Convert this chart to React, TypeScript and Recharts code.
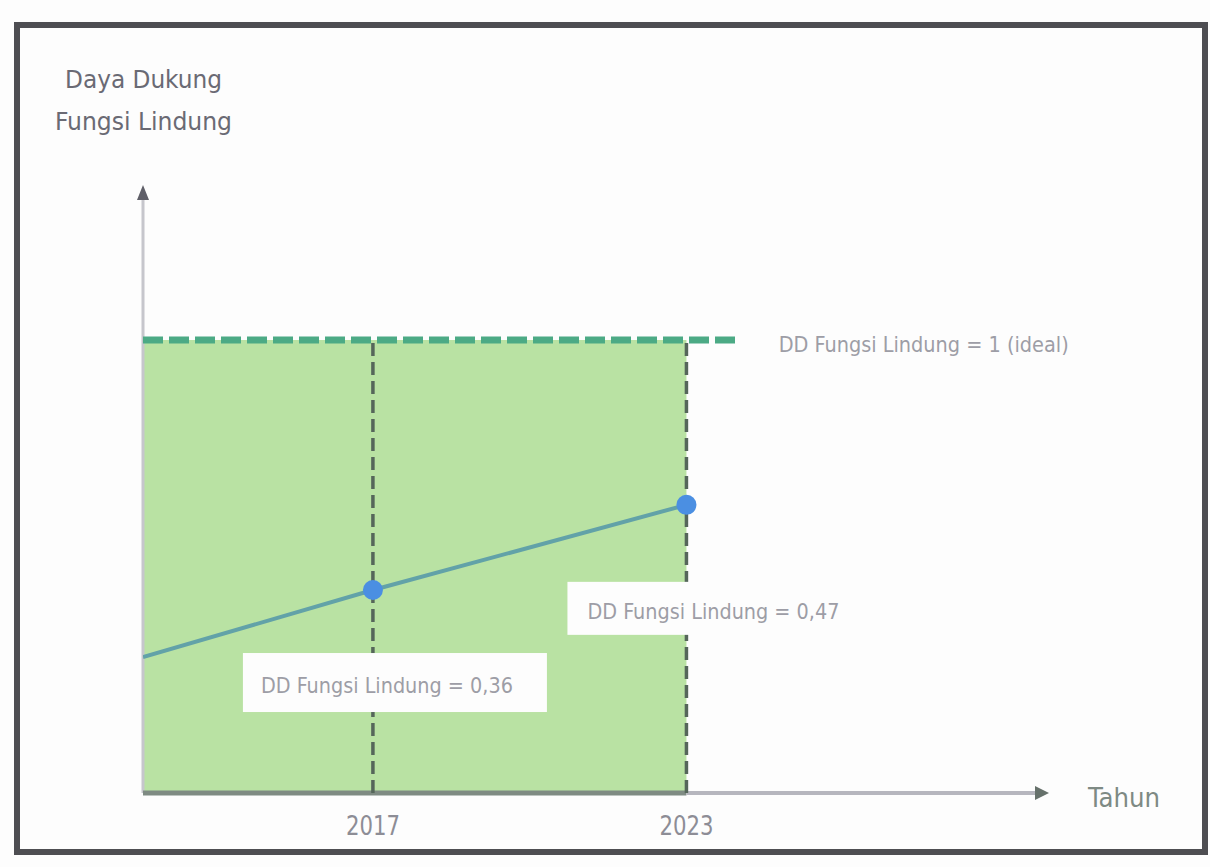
import React from 'react';
import {
  ComposedChart,
  Line,
  Scatter,
  XAxis,
  YAxis,
  ReferenceArea,
  ReferenceLine,
  ReferenceDot,
} from 'recharts';

// sketch values (positions as drawn in the schematic)
const xStart = 2012.6;
const xEnd = 2029.9;
const yTop = 1.342;
const years = [2017, 2023];
const plottedValues = [0.448, 0.636];
const ddLabels = ['0,36', '0,47'];
const lineStartValue = 0.3;
const idealValue = 1;
const idealLineEnd = 2024;
const titleLines = ['Daya Dukung', 'Fungsi Lindung'];

const lineData = [
  { year: xStart, dd: lineStartValue },
  ...years.map((y, i) => ({ year: y, dd: plottedValues[i] })),
];
const pointData = years.map((y, i) => ({ year: y, dd: plottedValues[i], label: ddLabels[i] }));

const FONT = "'DejaVu Sans Condensed', 'Liberation Sans Narrow', 'DejaVu Sans', sans-serif";
const TEXT_GREY = '#9d9da6';

// box offsets relative to each point
const boxOffsets = [
  { bx: -130, by: 63, bw: 304, bh: 59, tx: -112, ty: 95 },
  { bx: -119, by: 77, bw: 292, bh: 53, tx: -99, ty: 107 },
];

const PointShape = (props: any) => {
  const { cx, cy, payload, index } = props;
  const o = boxOffsets[index] || boxOffsets[0];
  return (
    <g>
      <rect x={cx + o.bx} y={cy + o.by} width={o.bw} height={o.bh} fill="#fdfdfd" />
      <text
        x={cx + o.tx}
        y={cy + o.ty}
        dominantBaseline="central"
        fill={TEXT_GREY}
        fontFamily={FONT}
        fontSize={22}
        textLength={252}
        lengthAdjust="spacingAndGlyphs"
      >
        {`DD Fungsi Lindung = ${payload.label}`}
      </text>
      <circle cx={cx} cy={cy} r={10} fill="#4b8fe2" />
    </g>
  );
};

const UpArrow = (props: any) => {
  const { cx, cy } = props;
  return <path d={`M${cx},${cy} L${cx + 6},${cy + 15} L${cx - 6},${cy + 15} Z`} fill="#5f5f68" />;
};

const RightArrow = (props: any) => {
  const { cx, cy } = props;
  return (
    <g>
      <path d={`M${cx + 2},${cy} L${cx - 12},${cy - 7} L${cx - 12},${cy + 7} Z`} fill="#66716b" />
      <text
        x={cx + 41}
        y={cy + 4}
        dominantBaseline="central"
        fill="#7e8a84"
        fontFamily={FONT}
        fontSize={27}
        textLength={72}
        lengthAdjust="spacingAndGlyphs"
      >
        Tahun
      </text>
    </g>
  );
};

const YearTick = (props: any) => {
  const { x, y, payload } = props;
  return (
    <text
      x={x}
      y={y + 24}
      textAnchor="middle"
      dominantBaseline="central"
      fill="#8d8d96"
      fontFamily={FONT}
      fontSize={27}
      textLength={54}
      lengthAdjust="spacingAndGlyphs"
    >
      {payload.value}
    </text>
  );
};

const IdealLabel = (props: any) => {
  const { viewBox } = props;
  const x = viewBox.x + viewBox.width + 40;
  const y = viewBox.y + 5;
  return (
    <text
      x={x}
      y={y}
      dominantBaseline="central"
      fill={TEXT_GREY}
      fontFamily={FONT}
      fontSize={22}
      textLength={290}
      lengthAdjust="spacingAndGlyphs"
    >
      DD Fungsi Lindung = 1 (ideal)
    </text>
  );
};

export default function App() {
  return (
    <div style={{ position: 'absolute', left: 0, top: 0, width: 1210, height: 867, background: '#fdfdfd' }}>
      <div
        style={{
          position: 'absolute',
          left: 14,
          top: 22,
          width: 1194,
          height: 833,
          boxSizing: 'border-box',
          border: '6px solid #4e4e52',
        }}
      />
      <svg style={{ position: 'absolute', left: 0, top: 0 }} width={300} height={160}>
        <text
          x={65}
          y={79}
          dominantBaseline="central"
          fill="#6a6a74"
          fontFamily={FONT}
          fontSize={25}
          textLength={157}
          lengthAdjust="spacingAndGlyphs"
        >
          {titleLines[0]}
        </text>
        <text
          x={55}
          y={121}
          dominantBaseline="central"
          fill="#6a6a74"
          fontFamily={FONT}
          fontSize={25}
          textLength={177}
          lengthAdjust="spacingAndGlyphs"
        >
          {titleLines[1]}
        </text>
      </svg>
      <div style={{ position: 'absolute', left: 0, top: 0 }}>
        <ComposedChart
          width={1210}
          height={867}
          margin={{ top: 185, right: 163, left: 143, bottom: 0 }}
        >
          <XAxis
            dataKey="year"
            type="number"
            domain={[xStart, xEnd]}
            ticks={years}
            axisLine={false}
            tickLine={false}
            height={74}
            tick={<YearTick />}
            allowDataOverflow
          />
          <YAxis type="number" domain={[0, yTop]} hide allowDataOverflow />
          <ReferenceArea
            x1={xStart}
            x2={years[1]}
            y1={0}
            y2={idealValue}
            fill="#b9e2a3"
            fillOpacity={1}
            stroke="none"
          />
          <ReferenceLine
            segment={[
              { x: xStart, y: 0 },
              { x: xStart, y: yTop - 0.03 },
            ]}
            stroke="#c6c6cc"
            strokeWidth={3}
          />
          <ReferenceLine
            segment={[
              { x: xStart, y: 0 },
              { x: years[1], y: 0 },
            ]}
            stroke="#7f8b83"
            strokeWidth={5}
          />
          <ReferenceLine
            segment={[
              { x: years[1], y: 0 },
              { x: xEnd - 0.2, y: 0 },
            ]}
            stroke="#b6b6be"
            strokeWidth={4}
          />
          {years.map((y) => (
            <ReferenceLine
              key={y}
              segment={[
                { x: y, y: 0 },
                { x: y, y: idealValue },
              ]}
              stroke="#55665a"
              strokeWidth={3.5}
              strokeDasharray="13 6"
            />
          ))}
          <ReferenceLine
            segment={[
              { x: xStart, y: idealValue },
              { x: idealLineEnd, y: idealValue },
            ]}
            stroke="#4caa85"
            strokeWidth={7}
            strokeDasharray="20 6"
            label={<IdealLabel />}
          />
          <ReferenceDot x={xStart} y={yTop} r={0} shape={<UpArrow />} ifOverflow="visible" />
          <ReferenceDot x={xEnd} y={0} r={0} shape={<RightArrow />} ifOverflow="visible" />
          <Line
            data={lineData}
            dataKey="dd"
            type="linear"
            stroke="#62a2a8"
            strokeWidth={4}
            dot={false}
            activeDot={false}
            isAnimationActive={false}
          />
          <Scatter data={pointData} dataKey="dd" shape={<PointShape />} isAnimationActive={false} />
        </ComposedChart>
      </div>
    </div>
  );
}
